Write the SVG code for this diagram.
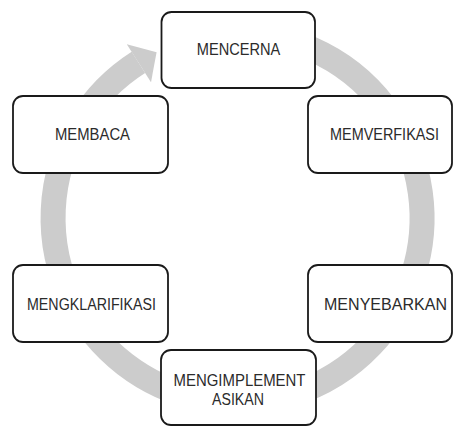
<svg xmlns="http://www.w3.org/2000/svg" width="454" height="427" viewBox="0 0 454 427">
  <style>
    .box { fill: #ffffff; stroke: #1a1a1a; stroke-width: 1.8; }
    .lbl { font-family: "Liberation Sans", Arial, sans-serif; font-size: 16px; fill: #2b2b2b; text-anchor: middle; }
    .ring { fill: none; stroke: #cccccc; stroke-width: 25; }
    .head { fill: #cccccc; stroke: none; }
  </style>
  <rect width="454" height="427" fill="#ffffff"/>
  <g id="connectors">
    <path class="ring" d="M 231.1 33.6 A 184.5 184.5 0 1 1 138.4 62.4"/>
    <polygon class="head" points="126.8,44.3 156.6,52.2 151.0,82.2"/>
  </g>
  <g id="node-mencerna">
    <rect class="box" x="161.5" y="12" width="153.5" height="76" rx="10"/>
    <text class="lbl" x="238.5" y="55" textLength="83.5" lengthAdjust="spacingAndGlyphs">MENCERNA</text>
  </g>
  <g id="node-memverfikasi">
    <rect class="box" x="308" y="96" width="144" height="77" rx="10"/>
    <text class="lbl" x="384.5" y="140" textLength="109" lengthAdjust="spacingAndGlyphs">MEMVERFIKASI</text>
  </g>
  <g id="node-menyebarkan">
    <rect class="box" x="308" y="265" width="144" height="77" rx="10"/>
    <text class="lbl" x="385.5" y="310" textLength="123" lengthAdjust="spacingAndGlyphs">MENYEBARKAN</text>
  </g>
  <g id="node-mengimplementasikan">
    <rect class="box" x="161" y="350" width="155" height="75" rx="10"/>
    <text class="lbl" x="239.5" y="385.5" textLength="132" lengthAdjust="spacingAndGlyphs">MENGIMPLEMENT</text>
    <text class="lbl" x="238" y="404.5" textLength="52" lengthAdjust="spacingAndGlyphs">ASIKAN</text>
  </g>
  <g id="node-mengklarifikasi">
    <rect class="box" x="13" y="265" width="155" height="77" rx="10"/>
    <text class="lbl" x="91.5" y="310" textLength="129" lengthAdjust="spacingAndGlyphs">MENGKLARIFIKASI</text>
  </g>
  <g id="node-membaca">
    <rect class="box" x="13" y="96" width="155" height="77" rx="10"/>
    <text class="lbl" x="92.5" y="140" textLength="75" lengthAdjust="spacingAndGlyphs">MEMBACA</text>
  </g>
</svg>
